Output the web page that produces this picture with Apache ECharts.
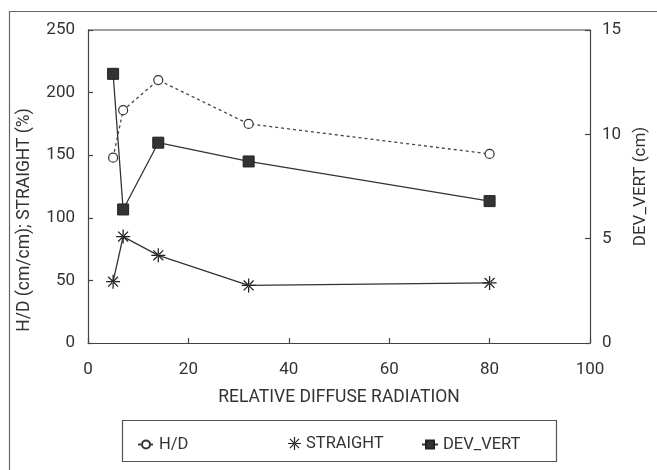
<!DOCTYPE html>
<html>
<head>
<meta charset="utf-8">
<script src="https://cdn.jsdelivr.net/npm/echarts@6/dist/echarts.min.js"></script>
<style>
html,body{margin:0;padding:0;background:#fff;}
#chart{width:657px;height:470px;}
</style>
</head>
<body>
<div id="chart"></div>
<script>
const radiation = [5, 7, 14, 32, 80];
const hdValues = [148, 186, 210, 175, 151];
const straightValues = [49, 85, 70, 46, 48];
const devVertValues = [12.9, 6.4, 9.6, 8.7, 6.8];
const xTicks = [0, 20, 40, 60, 80, 100];
const leftTicks = [0, 50, 100, 150, 200, 250];
const rightTicks = [0, 5, 10, 15];

const FONT = 'Roboto';
const TXT = '#333';
const LINE = '#333';
// asterisk made of thin bars (vertical, horizontal, two diagonals)
const w = 0.9, L = 10, d = 7.07, e = 0.64;
const starPath = 'path://' +
  `M${-w},${-L}L${w},${-L}L${w},${L}L${-w},${L}Z` +
  `M${-L},${-w}L${L},${-w}L${L},${w}L${-L},${w}Z` +
  `M${-d - e},${-d + e}L${-d + e},${-d - e}L${d + e},${d - e}L${d - e},${d + e}Z` +
  `M${-d - e},${d - e}L${-d + e},${d + e}L${d + e},${-d + e}L${d - e},${-d - e}Z`;

function pairs(vals) { return radiation.map((x, i) => [x, vals[i]]); }

const chart = echarts.init(document.getElementById('chart'), null, {renderer: 'canvas'});
const axisCommon = {
  axisLine: {show: true, lineStyle: {color: '#444', width: 1.2}},
  axisTick: {show: true, inside: true, length: 5, lineStyle: {color: '#444', width: 1.2}},
  splitLine: {show: false},
  axisLabel: {color: TXT, fontFamily: FONT, fontSize: 17}
};
const legendCommon = {
  top: 431,
  orient: 'horizontal',
  itemWidth: 16,
  itemHeight: 10,
  itemGap: 0,
  textStyle: {color: TXT, fontFamily: FONT, fontSize: 16.5},
  inactiveColor: '#ccc'
};

chart.setOption({
  animation: false,
  backgroundColor: '#fff',
  grid: {left: 88, right: 67, top: 30, bottom: 127, containLabel: false, show: false},
  xAxis: Object.assign({}, axisCommon, {
    type: 'value', min: xTicks[0], max: xTicks[xTicks.length - 1], interval: 20,
    name: 'RELATIVE DIFFUSE RADIATION', nameLocation: 'middle', nameGap: 46,
    nameTextStyle: {color: TXT, fontFamily: FONT, fontSize: 17.5},
    axisLabel: Object.assign({}, axisCommon.axisLabel, {margin: 18})
  }),
  yAxis: [
    Object.assign({}, axisCommon, {
      type: 'value', position: 'left', min: leftTicks[0], max: leftTicks[leftTicks.length - 1], interval: 50,
      axisLabel: Object.assign({}, axisCommon.axisLabel, {margin: 13})
    }),
    Object.assign({}, axisCommon, {
      type: 'value', position: 'right', min: rightTicks[0], max: rightTicks[rightTicks.length - 1], interval: 5,
      name: 'DEV_VERT (cm)', nameLocation: 'middle', nameGap: 42, nameRotate: 90,
      nameTextStyle: {color: TXT, fontFamily: FONT, fontSize: 17},
      axisLabel: Object.assign({}, axisCommon.axisLabel, {margin: 12})
    })
  ],
  legend: [
    Object.assign({}, legendCommon, {left: 132, data: ['H/D']}),
    Object.assign({}, legendCommon, {left: 283, top: 430, itemWidth: 13, itemHeight: 13, itemGap: 0,
      data: [{name: 'STRAIGHT', icon: starPath}]}),
    Object.assign({}, legendCommon, {left: 416, data: ['DEV_VERT']})
  ],
  graphic: [
    {type: 'rect', silent: true, z: -1, shape: {x: 9.5, y: 11.5, width: 700, height: 500},
     style: {fill: null, stroke: '#666', lineWidth: 1.2}},
    {type: 'rect', silent: true, z: -1, shape: {x: 122.5, y: 420.5, width: 434, height: 41},
     style: {fill: null, stroke: '#555', lineWidth: 1.2}},
    {type: 'rect', silent: true, z: -1, shape: {x: 88, y: 30, width: 502, height: 0},
     style: {fill: null, stroke: '#444', lineWidth: 1.2}},
    {type: 'text', silent: true, x: 25, y: 220, rotation: Math.PI / 2,
     style: {text: 'H/D (cm/cm); STRAIGHT (%)', fill: TXT, font: '17.5px ' + FONT, align: 'center', verticalAlign: 'middle'}}
  ],
  series: [
    {
      name: 'H/D', type: 'line', yAxisIndex: 0, data: pairs(hdValues),
      symbol: 'circle', symbolSize: 9,
      itemStyle: {color: '#fff', borderColor: '#333', borderWidth: 1.2},
      lineStyle: {color: '#444', width: 1.3, type: [3, 3]}
    },
    {
      name: 'STRAIGHT', type: 'line', yAxisIndex: 0, data: pairs(straightValues),
      symbol: starPath, symbolSize: 14,
      itemStyle: {color: '#222', borderWidth: 0},
      lineStyle: {color: LINE, width: 1.3}
    },
    {
      name: 'DEV_VERT', type: 'line', yAxisIndex: 1, data: pairs(devVertValues),
      symbol: 'rect', symbolSize: 11,
      itemStyle: {color: '#333', borderColor: '#222', borderWidth: 1},
      lineStyle: {color: LINE, width: 1.3}
    }
  ]
});
</script>
</body>
</html>
